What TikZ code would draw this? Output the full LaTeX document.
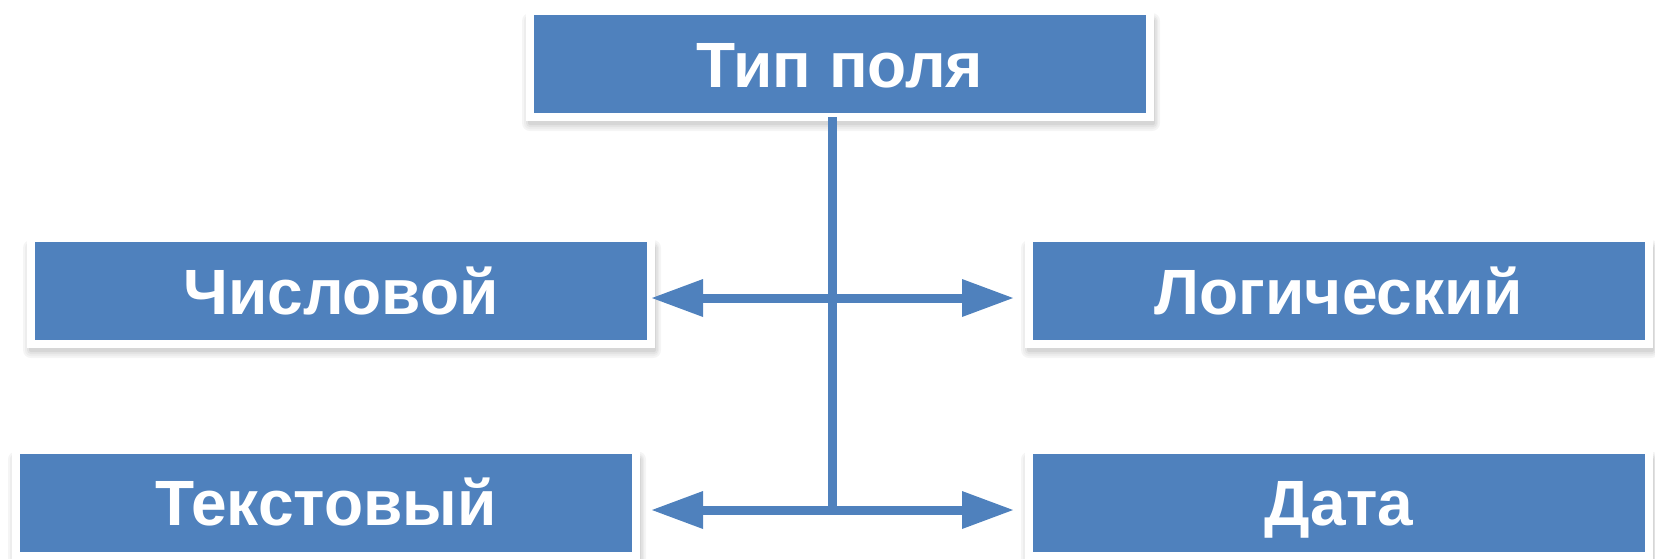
\documentclass[tikz,border=0pt]{standalone}
\usepackage{fontspec}
\setmainfont{Liberation Sans}
\usetikzlibrary{backgrounds}
\definecolor{boxblue}{HTML}{4F81BD}
\tikzset{
  fieldbox/.style={draw=white, line width=8pt, fill=boxblue, inner sep=0pt, outer sep=0pt,
    minimum width=620pt, minimum height=106pt, text=white,
    font=\fontsize{64}{70}\selectfont\bfseries, text height=46pt, text depth=0pt},
  arrowbody/.style={fill=boxblue, draw=none},
}
\newcommand{\softshadow}[1]{%
  \fill[black!4, rounded corners=8pt] ([xshift=-8pt,yshift=-14pt]#1.south west) rectangle ([xshift=10pt,yshift=-2pt]#1.north east);
  \fill[black!7, rounded corners=6pt] ([xshift=-6pt,yshift=-12pt]#1.south west) rectangle ([xshift=8pt,yshift=-4pt]#1.north east);
  \fill[black!11, rounded corners=4pt] ([xshift=-4pt,yshift=-10pt]#1.south west) rectangle ([xshift=7pt,yshift=-6pt]#1.north east);
  \fill[black!16, rounded corners=2pt] ([xshift=-2pt,yshift=-8pt]#1.south west) rectangle ([xshift=5pt,yshift=-8pt]#1.north east);
}
\begin{document}
\begin{tikzpicture}[x=1pt,y=1pt]
\useasboundingbox (0,-558) rectangle (1655,0);
\node[fieldbox] (top) at (840,-64) {Тип поля};
\node[fieldbox] (num) at (341,-291) {Числовой};
\node[fieldbox] (log) at (1339,-291) {Логический};
\node[fieldbox] (txt) at (326,-502.5) {Текстовый};
\node[fieldbox] (date) at (1339,-502.5) {Дата};
\begin{pgfonlayer}{background}
  \softshadow{top}\softshadow{num}\softshadow{log}\softshadow{txt}\softshadow{date}
\end{pgfonlayer}
\coordinate (j1) at (832,-298);
\coordinate (j2) at (832,-510);
\coordinate (tnum) at ([xshift=1pt]num.east |- j1);
\coordinate (tlog) at ([xshift=-16pt]log.west |- j1);
\coordinate (ttxt) at ([xshift=16pt]txt.east |- j2);
\coordinate (tdate) at ([xshift=-16pt]date.west |- j2);
% shafts of the double arrows
\fill[arrowbody] ([xshift=50pt,yshift=-4.5pt]tnum) rectangle ([xshift=-50pt,yshift=4.5pt]tlog);
\fill[arrowbody] ([xshift=50pt,yshift=-4.5pt]ttxt) rectangle ([xshift=-50pt,yshift=4.5pt]tdate);
% arrowheads
\fill[arrowbody] (tnum) -- ([xshift=51pt,yshift=19pt]tnum) -- ([xshift=51pt,yshift=-19pt]tnum) -- cycle;
\fill[arrowbody] (tlog) -- ([xshift=-51pt,yshift=19pt]tlog) -- ([xshift=-51pt,yshift=-19pt]tlog) -- cycle;
\fill[arrowbody] (ttxt) -- ([xshift=51pt,yshift=19pt]ttxt) -- ([xshift=51pt,yshift=-19pt]ttxt) -- cycle;
\fill[arrowbody] (tdate) -- ([xshift=-51pt,yshift=19pt]tdate) -- ([xshift=-51pt,yshift=-19pt]tdate) -- cycle;
% vertical connector from the top box
\fill[arrowbody] ([xshift=-4.5pt]top.south -| j1) rectangle ([xshift=4.5pt,yshift=-4.5pt]j2);
\end{tikzpicture}
\end{document}
